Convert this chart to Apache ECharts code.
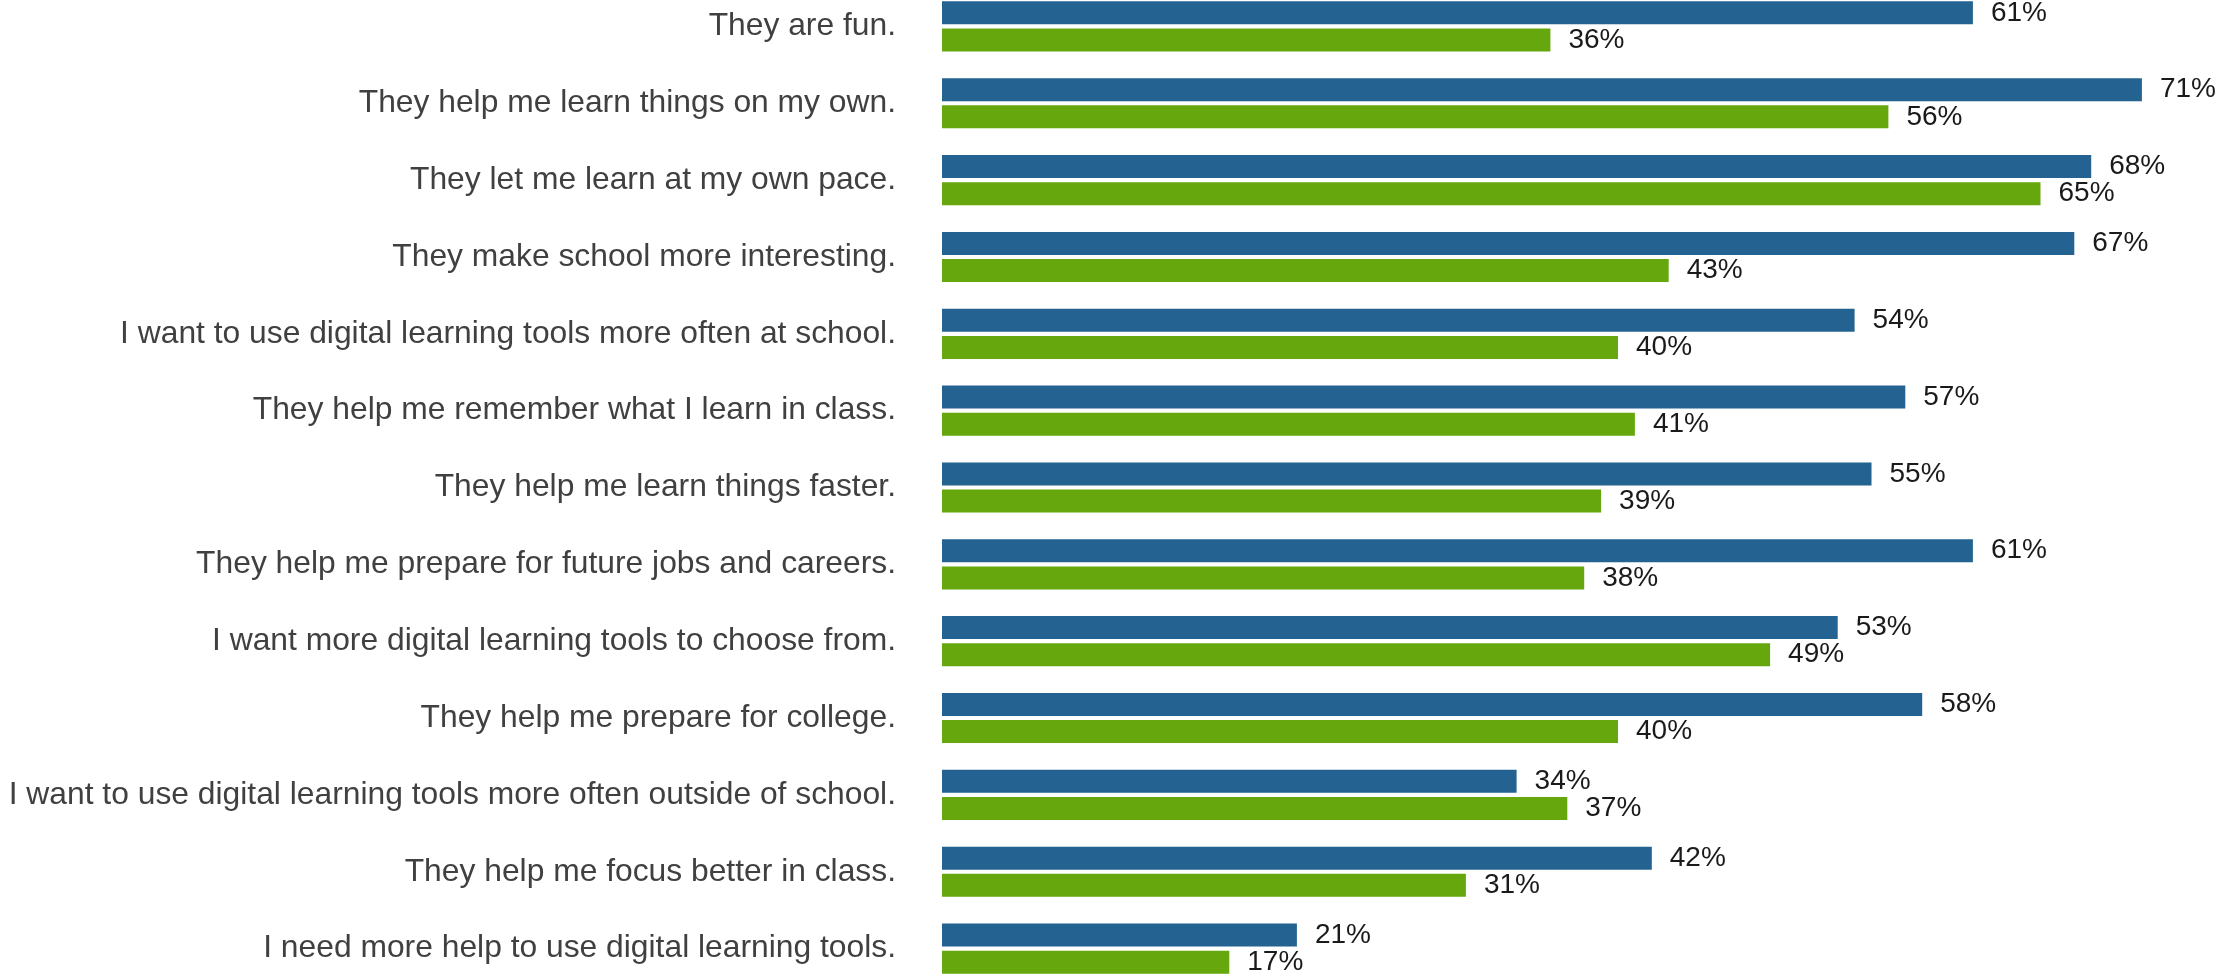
<!DOCTYPE html>
<html>
<head>
<meta charset="utf-8">
<script src="https://cdn.jsdelivr.net/npm/echarts@6/dist/echarts.min.js"></script>
<style>
html,body{margin:0;padding:0;background:#fff;}
#chart{width:2220px;height:976px;}
</style>
</head>
<body>
<div id="chart"></div>
<script>
const categories = [
  "They are fun.",
  "They help me learn things on my own.",
  "They let me learn at my own pace.",
  "They make school more interesting.",
  "I want to use digital learning tools more often at school.",
  "They help me remember what I learn in class.",
  "They help me learn things faster.",
  "They help me prepare for future jobs and careers.",
  "I want more digital learning tools to choose from.",
  "They help me prepare for college.",
  "I want to use digital learning tools more often outside of school.",
  "They help me focus better in class.",
  "I need more help to use digital learning tools."
];
const seriesBlue = [61, 71, 68, 67, 54, 57, 55, 61, 53, 58, 34, 42, 21];
const seriesGreen = [36, 56, 65, 43, 40, 41, 39, 38, 49, 40, 37, 31, 17];

const chart = echarts.init(document.getElementById('chart'), null, {renderer: 'canvas'});
const labelStyle = {
  show: true,
  position: 'right',
  distance: 18,
  formatter: p => p.value + '%',
  fontFamily: 'Liberation Sans, Arial, sans-serif',
  fontSize: 28,
  color: '#1a1a1a'
};
chart.setOption({
  animation: false,
  backgroundColor: '#ffffff',
  grid: {left: 942, top: -12, height: 999, width: 1267.5, containLabel: false, outerBoundsMode: 'none'},
  xAxis: {type: 'value', min: 0, max: 75, show: false, splitLine: {show: false}},
  yAxis: {
    type: 'category',
    data: categories,
    inverse: true,
    axisLine: {show: false},
    axisTick: {show: false},
    splitLine: {show: false},
    axisLabel: {
      margin: 46,
      fontFamily: 'Liberation Sans, Arial, sans-serif',
      fontSize: 31.8,
      color: '#404040'
    }
  },
  series: [
    {name: 'Group 1', type: 'bar', data: seriesBlue, barWidth: 23, barGap: '18%',
     itemStyle: {color: '#246391'}, label: labelStyle},
    {name: 'Group 2', type: 'bar', data: seriesGreen, barWidth: 23, barGap: '18%',
     itemStyle: {color: '#65A70C'}, label: labelStyle}
  ]
});
</script>
</body>
</html>
